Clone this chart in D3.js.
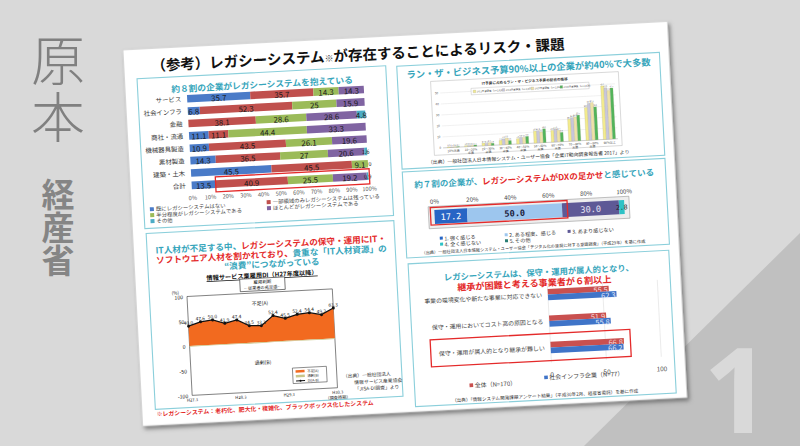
<!DOCTYPE html>
<html><head><meta charset="utf-8">
<script src="https://cdn.jsdelivr.net/npm/d3@7/dist/d3.min.js"></script>
<style>
html,body{margin:0;padding:0;background:#d9d9d9;overflow:hidden}
svg{display:block;font-family:"Noto Sans CJK JP","Noto Sans",sans-serif}
</style></head><body>
<svg id="chart" width="800" height="446"></svg>
<script>
// ---------------- DATA ----------------
const slideTitleA = "（参考）レガシーシステム";
const slideTitleB = "が存在することによるリスク・課題";
const sideTitle = "原本";
const sideSub = "経産省";

// Panel 1: legacy system share by industry (%)
const legacyCategories = ["サービス", "社会インフラ", "金融", "商社・流通", "機械器具製造", "素材製造", "建築・土木", "合計"];
const legacySeries = ["既にレガシーシステムはない", "一部領域のみレガシーシステムは残っている", "半分程度がレガシーシステムである", "ほとんどがレガシーシステムである", "その他"];
const legacyNone    = [35.7, 6.8, 0, 11.1, 10.9, 14.3, 45.5, 13.5];
const legacyPartial = [35.7, 52.3, 38.1, 11.1, 43.5, 36.5, 45.5, 40.9];
const legacyHalf    = [14.3, 25, 28.6, 44.4, 26.1, 27, 9.1, 25.5];
const legacyMost    = [14.3, 15.9, 28.6, 33.3, 19.6, 20.6, 0, 19.2];
const legacyOther   = [0, 0, 4.8, 0, 0, 1.6, 0, 0.9];
const percentTicks = [0, 10, 20, 30, 40, 50, 60, 70, 80, 90, 100];

// Panel 2: run-the-business budget share
const runGroups = ["10%未満", "10～20%未満", "20～30%未満", "30～40%未満", "40～50%未満", "50～60%未満", "60～70%未満", "70～80%未満", "80～90%未満", "90%以上"];
const runYears = ["2013年度調査（n=1,016）", "2014年度調査（n=1,037）", "2015年度調査（n=1,054）", "2016年度調査（n=1,028）"];
const run2013 = [0.6, 1.0, 2.4, 4.1, 4.8, 10.9, 10.6, 20.1, 29.8, 48.7];
const run2014 = [0.4, 0.9, 2.1, 5.3, 6.0, 11.2, 11.8, 21.3, 33.5, 46.9];
const run2015 = [0.5, 0.8, 2.6, 5.9, 5.6, 9.8, 10.4, 21.9, 34.1, 44.2];
const run2016 = [0.4, 1.1, 1.9, 3.5, 6.5, 12.6, 8.5, 23.4, 30.0, 46.4];
const runTicks = [0, 10, 20, 30, 40, 50];

// Panel 3: employment DI
const diPeriods = ["H27.3", "H27.6", "H27.9", "H27.12", "H28.3", "H28.6", "H28.9", "H28.12", "H29.3", "H29.6", "H29.9", "H29.12", "H30.3"];
const diValues  = [40.0, 47.6, 50.0, 41.9, 47.4, 34.5, 33.3, 52.4, 45.5, 52.4, 54.4, 49.2, 61.3];
const diExcess  = [-1.5, -1.5, -1.2, -1.5, -1.2, -1.8, -1.5, -1.2, -1.5, -1.2, -1.2, -1.5, -1.2];
const diTicks = [-100, -50, 0, 50, 100];
const diAxisLabels = ["H27.3", "H28.3", "H29.3", "H30.3"];

// Panel 4: DX obstacle feeling
const dxLabels = ["1. 強く感じる", "2. ある程度、感じる", "3. あまり感じない", "4. 全く感じない", "5. その他"];
const dxValues = [17.2, 50.0, 30.0, 2.8, 0];
const dxTicks = [0, 20, 40, 60, 80, 100];

// Panel 5: succession difficulty
const burdenCats = ["事業の環境変化や新たな事業に対応できない", "保守・運用においてコスト高の原因となる", "保守・運用が属人的となり継承が難しい"];
const burdenSeries = ["全体（N=170）", "社会インフラ企業（N=77）"];
const burdenAll   = [55.5, 51.9, 66.8];
const burdenInfra = [62.3, 55.8, 66.2];
const burdenTicks = [0, 50, 100];

// ---------------- STYLE ----------------
const TEAL = "#36a5bb", RED = "#e42a2a", BORDER = "#8bcfdb";
const svg = d3.select("#chart");

// ---------------- BACKGROUND ----------------
svg.append("rect").attr("width", 800).attr("height", 446).attr("fill", "#d9d9d9");
svg.append("path").attr("d", "M800,233 L800,446 L584,446 Z").attr("fill", "#c0c0c0");
svg.append("text").attr("x", 737).attr("y", 433).attr("text-anchor", "middle")
  .attr("font-family", "'Noto Sans',sans-serif").attr("font-size", 118).attr("font-weight", 700)
  .attr("fill", "#d9d9d9").text("1");
svg.append("text").attr("x", 58).attr("y", 33).style("writing-mode", "vertical-rl")
  .attr("font-size", 54).attr("font-weight", 300).attr("letter-spacing", 3).attr("fill", "#808080").text(sideTitle);
svg.append("text").attr("x", 58).attr("y", 178).style("writing-mode", "vertical-rl")
  .attr("font-size", 33).attr("font-weight", 700).attr("fill", "#858585").text(sideSub);

const defs = svg.append("defs");
const f = defs.append("filter").attr("id", "sh").attr("x", "-5%").attr("y", "-5%").attr("width", "112%").attr("height", "115%");
f.append("feDropShadow").attr("dx", 2).attr("dy", 3).attr("stdDeviation", 2).attr("flood-color", "#555").attr("flood-opacity", 0.7);

// ---------------- SLIDE ----------------
const S = svg.append("g").attr("transform", "rotate(-3,405,224)");
S.append("rect").attr("x", 132.6).attr("y", 35.5).attr("width", 545).attr("height", 376.5)
  .attr("fill", "#fff").attr("stroke", "#cfcfcf").attr("stroke-width", 0.6).attr("filter", "url(#sh)");

const title = S.append("text").attr("x", 160).attr("y", 58).attr("font-size", 14.5).attr("font-weight", 700).attr("fill", "#111");
title.append("tspan").text(slideTitleA);
title.append("tspan").attr("font-size", 9).attr("fill", "#444").text("※");
title.append("tspan").text(slideTitleB);

function box(x, y, w, h) {
  S.append("rect").attr("x", x).attr("y", y).attr("width", w).attr("height", h)
    .attr("fill", "none").attr("stroke", BORDER).attr("stroke-width", 1.1);
}
function rich(g, x, y, parts, size, anchor) {
  const t = g.append("text").attr("x", x).attr("y", y).attr("font-size", size)
    .attr("font-weight", 700).attr("text-anchor", anchor || "middle");
  parts.forEach(p => t.append("tspan").attr("fill", p[1]).text(p[0]));
  return t;
}
function label(g, x, y, s, size, opts) {
  opts = opts || {};
  return g.append("text").attr("x", x).attr("y", y).attr("font-size", size)
    .attr("text-anchor", opts.anchor || "start").attr("dominant-baseline", "central")
    .attr("fill", opts.fill || "#333").attr("font-weight", opts.weight || 400)
    .attr("font-family", opts.family || null).text(s);
}

box(145, 65, 249, 150);
box(146, 220, 248, 176);
box(405, 66, 263, 103);
box(405, 172, 263, 86);
box(406, 264, 261, 143);

// ---------------- PANEL 1 ----------------
{
  const g = S.append("g");
  rich(g, 269.5, 80.5, [["約８割の企業がレガシーシステムを抱えている", TEAL]], 8.7);
  const x = d3.scaleLinear().domain([0, 100]).range([194, 371]);
  const y = d3.scalePoint().domain(legacyCategories).range([87.5, 174.3]);
  const cols = [legacyNone, legacyPartial, legacyHalf, legacyMost, legacyOther];
  const colors = ["#4a7bc8", "#c0504d", "#9bbb59", "#8064a2", "#4bacc6"];
  const rows = legacyCategories.map((c, i) => { const o = { cat: c }; cols.forEach((s, k) => o["k" + k] = s[i]); return o; });
  const stack = d3.stack().keys(cols.map((_, k) => "k" + k))(rows);
  const bh = 7.6;
  stack.forEach((layer, k) => {
    layer.forEach(d => {
      const cy = y(d.data.cat);
      g.append("rect").attr("x", x(d[0])).attr("y", cy - bh / 2)
        .attr("width", Math.max(0, x(d[1]) - x(d[0]))).attr("height", bh).attr("fill", colors[k]);
      const v = d[1] - d[0];
      if (k < 4 || v > 0) {
        const v0 = Math.round(v * 10) / 10;
        const cx = v0 === 0 ? x(d[0]) + 2 : (x(d[0]) + x(d[1])) / 2;
        label(g, cx, cy + 0.3, String(v0), v < 4 ? 5.5 : 7.8, { anchor: "middle", fill: "#1a1a1a" });
      }
    });
  });
  legacyCategories.forEach(c => label(g, 188, y(c), c, 6.4, { anchor: "end", fill: "#333" }));
  const ax = g.append("g").attr("transform", "translate(0,182)")
    .call(d3.axisBottom(x).tickValues(percentTicks).tickFormat(d => d + "%").tickSize(0));
  ax.select(".domain").remove();
  ax.selectAll("text").attr("font-size", 5.6).attr("fill", "#555").attr("font-family", "'Noto Sans CJK JP',sans-serif");
  g.append("rect").attr("x", 218).attr("y", 167).attr("width", 154).attr("height", 15)
    .attr("fill", "none").attr("stroke", RED).attr("stroke-width", 1.3);
  const lp = [[151, 196], [268, 195], [151, 202], [268, 201], [151, 208]];
  legacySeries.forEach((s, k) => {
    g.append("rect").attr("x", lp[k][0]).attr("y", lp[k][1] - 2).attr("width", 4).attr("height", 4).attr("fill", colors[k]);
    label(g, lp[k][0] + 6, lp[k][1], s, 5.4, { fill: "#444" });
  });
}

// ---------------- PANEL 2 ----------------
{
  const g = S.append("g");
  rich(g, 536.5, 78.5, [["ラン・ザ・ビジネス予算90%以上の企業が約40%で大多数", TEAL]], 9.3);
  g.append("rect").attr("x", 438).attr("y", 83).attr("width", 188).attr("height", 74)
    .attr("fill", "#fff").attr("stroke", "#b5b5b5").attr("stroke-width", 0.5);
  label(g, 532, 87.5, "IT予算に占めるラン・ザ・ビジネス予算の割合の推移", 3.6, { anchor: "middle", weight: 700, fill: "#333" });
  const x = d3.scaleBand().domain(runGroups).range([449, 622]).paddingInner(0.28).paddingOuter(0.12);
  const xb = d3.scaleBand().domain(runYears).range([0, x.bandwidth()]).padding(0.06);
  const y = d3.scaleLinear().domain([0, 50]).range([150, 95]);
  const colors = ["#f3eb8e", "#c8c6dc", "#efe2a8", "#52b45a"];
  runTicks.forEach(t => {
    g.append("line").attr("x1", 447).attr("x2", 622).attr("y1", y(t)).attr("y2", y(t))
      .attr("stroke", t === 0 ? "#888" : "#dcdcdc").attr("stroke-width", 0.4);
    label(g, 445, y(t), String(t), 3, { anchor: "end", fill: "#555" });
  });
  [run2013, run2014, run2015, run2016].forEach((arr, k) => {
    arr.forEach((v, i) => {
      const bx = x(runGroups[i]) + xb(runYears[k]);
      g.append("rect").attr("x", bx).attr("y", y(v)).attr("width", xb.bandwidth()).attr("height", y(0) - y(v))
        .attr("fill", colors[k]).attr("stroke", "#9a9a7a").attr("stroke-width", 0.2);
      label(g, bx + xb.bandwidth() / 2, y(v) - 1.3, v.toFixed(1), 1.9, { anchor: "middle", fill: "#444" });
    });
  });
  runGroups.forEach((grp, i) => {
    const cx = x(grp) + x.bandwidth() / 2;
    const m = grp.indexOf("～");
    if (m < 0) label(g, cx, 153.5, grp, 3, { anchor: "middle", fill: "#444" });
    else {
      label(g, cx, 153.3, grp.replace("未満", ""), 3, { anchor: "middle", fill: "#444" });
      label(g, cx, 156.5, "未満", 3, { anchor: "middle", fill: "#444" });
    }
  });
  g.append("rect").attr("x", 478).attr("y", 92).attr("width", 118).attr("height", 6.5)
    .attr("fill", "#fff").attr("stroke", "#999").attr("stroke-width", 0.3);
  runYears.forEach((yr, k) => {
    const lx = 480 + k * 29;
    g.append("rect").attr("x", lx).attr("y", 94).attr("width", 2.6).attr("height", 2.6).attr("fill", colors[k]).attr("stroke", "#888").attr("stroke-width", 0.2);
    label(g, lx + 3.5, 95.3, yr, 2.4, { fill: "#444" });
  });
  label(g, 532, 163, "（出典）一般社団法人日本情報システム・ユーザー協会「企業IT動向調査報告書 2017」より", 4.9, { anchor: "middle", fill: "#333" });
}

// ---------------- PANEL 3 ----------------
{
  const g = S.append("g");
  rich(g, 270, 240.5, [["IT人材が不足する中、", TEAL], ["レガシーシステムの保守・運用にIT・", RED]], 8.6);
  rich(g, 270, 250.5, [["ソフトウエア人材を割かれており、", RED], ["貴重な「IT人材資源」の", TEAL]], 8.6);
  rich(g, 270, 260, [["“浪費”につながっている", TEAL]], 8.6);
  label(g, 259.5, 267.4, "情報サービス業雇用DI（H27年度以降）", 6.2, { anchor: "middle", weight: 700, fill: "#111" })
    .attr("text-decoration", "underline");
  g.append("rect").attr("x", 237).attr("y", 270.5).attr("width", 45).attr("height", 12.5)
    .attr("fill", "#fff").attr("stroke", "#222").attr("stroke-width", 0.6);
  label(g, 259.5, 274, "雇用判断", 4.5, { anchor: "middle", fill: "#111" });
  label(g, 259.5, 279.5, "―従業者の充足感―", 4.2, { anchor: "middle", fill: "#111" });

  const x = d3.scalePoint().domain(diPeriods).range([183.5, 329]);
  const y = d3.scaleLinear().domain([-100, 100]).range([384, 285]);
  g.append("rect").attr("x", 183.5).attr("y", 285).attr("width", 145.5).attr("height", 99)
    .attr("fill", "#fff").attr("stroke", "#333").attr("stroke-width", 0.6);
  const area = d3.area().x((d, i) => x(diPeriods[i])).y0(y(0)).y1(d => y(d));
  g.append("path").datum(diValues).attr("d", area).attr("fill", "#f26a1f");
  g.append("path").datum(diExcess).attr("d", area).attr("fill", "#c9c68a");
  const line = d3.line().x((d, i) => x(diPeriods[i])).y(d => y(d));
  g.append("path").datum(diValues).attr("d", line).attr("fill", "none").attr("stroke", "#111").attr("stroke-width", 1.3);
  diValues.forEach((v, i) => {
    g.append("circle").attr("cx", x(diPeriods[i])).attr("cy", y(v)).attr("r", 1.5).attr("fill", "#111");
    label(g, x(diPeriods[i]), y(v) - 4, v.toFixed(1), 4.8, { anchor: "middle", fill: "#222" });
  });
  diTicks.forEach(t => label(g, 179.5, y(t), String(t), 5.2, { anchor: "end", fill: "#222" }));
  label(g, 172, 280.5, "(%)", 4.6, { anchor: "middle", fill: "#222" });
  label(g, 256, y(80), "不足(A)", 5, { anchor: "middle", fill: "#222" });
  label(g, 256, y(-40), "過剰(B)", 5, { anchor: "middle", fill: "#222" });
  diAxisLabels.forEach(p => label(g, x(p), 388, p, 4.2, { anchor: "middle", fill: "#222" }));
  label(g, x("H30.3"), 393.3, "（調査時期）", 4.2, { anchor: "middle", fill: "#222" });
  g.append("rect").attr("x", 285).attr("y", 362).attr("width", 34).attr("height", 15.5)
    .attr("fill", "#fff").attr("stroke", "#222").attr("stroke-width", 0.5);
  g.append("rect").attr("x", 288).attr("y", 364.3).attr("width", 9).attr("height", 2.6).attr("fill", "#f26a1f");
  g.append("rect").attr("x", 288).attr("y", 369).attr("width", 9).attr("height", 2.6).attr("fill", "#c9c68a");
  g.append("line").attr("x1", 288).attr("x2", 297).attr("y1", 375).attr("y2", 375).attr("stroke", "#111").attr("stroke-width", 1);
  g.append("circle").attr("cx", 292.5).attr("cy", 375).attr("r", 1).attr("fill", "#111");
  label(g, 299.5, 365.6, "不足(A)", 3.5, { fill: "#222" });
  label(g, 299.5, 370.3, "過剰(B)", 3.5, { fill: "#222" });
  label(g, 299.5, 375, "DI(A-B)", 3.5, { fill: "#222" });
  label(g, 335, 372, "（出典）一般社団法人", 4.8, { fill: "#333" });
  label(g, 346, 379, "情報サービス産業協会", 4.8, { fill: "#333" });
  label(g, 346, 385.5, "「JISA-DI調査」より", 4.8, { fill: "#333" });
  label(g, 147, 400.5, "※レガシーシステム：老朽化、肥大化・複雑化、ブラックボックス化したシステム", 5.9, { fill: RED, weight: 700 });
}

// ---------------- PANEL 4 ----------------
{
  const g = S.append("g");
  rich(g, 536.5, 188.5, [["約７割の企業が、", TEAL], ["レガシーシステムがDXの足かせ", RED], ["と感じている", TEAL]], 8.5);
  const x = d3.scaleLinear().domain([0, 100]).range([435, 625]);
  const ax = g.append("g").attr("transform", "translate(0,198)")
    .call(d3.axisBottom(x).tickValues(dxTicks).tickFormat(d => d + "%").tickSize(0));
  ax.select(".domain").remove();
  ax.selectAll("text").attr("font-size", 6).attr("fill", "#444").attr("font-family", "'Noto Sans CJK JP',sans-serif");
  g.append("rect").attr("x", 429).attr("y", 208).attr("width", 201).attr("height", 22)
    .attr("fill", "#eeeeee").attr("stroke", "#9a9a9a").attr("stroke-width", 0.6);
  const colors = ["#2765c5", "#9dc6ee", "#5e5996", "#2ec2c6", "#2a7d74"];
  const txtCol = ["#ffffff", "#1a1a3a", "#e8e6f5", "#222", "#222"];
  let acc = 0;
  dxValues.forEach((v, k) => {
    g.append("rect").attr("x", x(acc)).attr("y", 211.5).attr("width", x(acc + v) - x(acc)).attr("height", 14).attr("fill", colors[k]);
    if (v > 0) label(g, (x(acc) + x(acc + v)) / 2, 219, v.toFixed(1), v < 5 ? 6.5 : 8.6,
      { anchor: "middle", fill: txtCol[k], family: "'DejaVu Sans Mono',monospace", weight: k === 1 ? 700 : 400 });
    acc += v;
  });
  g.append("rect").attr("x", 431).attr("y", 209).attr("width", 137).attr("height", 17.5)
    .attr("fill", "none").attr("stroke", RED).attr("stroke-width", 1.3);
  const lp = [[439, 240], [504, 240], [567, 240], [439, 246], [504, 246]];
  dxLabels.forEach((s, k) => {
    g.append("rect").attr("x", lp[k][0]).attr("y", lp[k][1] - 1.5).attr("width", 3).attr("height", 3).attr("fill", colors[k]);
    label(g, lp[k][0] + 4.5, lp[k][1], s, 5.2, { fill: "#333" });
  });
  label(g, 532, 253.3, "（出典）一般社団法人日本情報システム・ユーザー協会「デジタル化の進展に対する意識調査」（平成29年）を基に作成", 4.2, { anchor: "middle", fill: "#333" });
}

// ---------------- PANEL 5 ----------------
{
  const g = S.append("g");
  rich(g, 536, 282.5, [["レガシーシステムは、保守・運用が属人的となり、", TEAL]], 8.3);
  rich(g, 531, 293.3, [["継承が困難と考える事業者が６割以上", RED]], 9.1);
  const x = d3.scaleLinear().domain([0, 100]).range([544, 654]);
  const y = d3.scalePoint().domain(burdenCats).range([302, 355]);
  burdenTicks.forEach(t => {
    g.append("line").attr("x1", x(t)).attr("x2", x(t)).attr("y1", 293).attr("y2", 370)
      .attr("stroke", "#dedede").attr("stroke-width", 0.6);
    label(g, x(t), 381.5, String(t), 6.5, { anchor: "middle", fill: "#555" });
  });
  const bh = 5.7;
  const colors = ["#c9504f", "#3f74c8"];
  const txtCol = ["#f6dede", "#e3ecfa"];
  [burdenAll, burdenInfra].forEach((arr, k) => {
    arr.forEach((v, i) => {
      const top = y(burdenCats[i]) - bh + k * bh;
      g.append("rect").attr("x", x(0)).attr("y", top).attr("width", x(v) - x(0)).attr("height", bh).attr("fill", colors[k]);
      label(g, x(v) - 1, top + bh / 2 + 0.2, v.toFixed(1), 7.4, { anchor: "end", fill: txtCol[k] });
    });
  });
  burdenCats.forEach(c => label(g, 538, y(c), c, 5.9, { anchor: "end", fill: "#444" }));
  g.append("rect").attr("x", 424).attr("y", 341).attr("width", 200).attr("height", 27)
    .attr("fill", "none").attr("stroke", RED).attr("stroke-width", 1.3);
  const lp = [[461, 388.5], [536, 384.5]];
  burdenSeries.forEach((s, k) => {
    g.append("rect").attr("x", lp[k][0]).attr("y", lp[k][1] - 1.8).attr("width", 3.6).attr("height", 3.6).attr("fill", colors[k]);
    label(g, lp[k][0] + 5, lp[k][1], s, 6, { fill: "#444" });
  });
  label(g, 536, 402.5, "（出典）「情報システム開発課題アンケート結果」（平成30年2月、経産省委託）を基に作成", 4.6, { anchor: "middle", fill: "#333" });
}
</script>
</body></html>
